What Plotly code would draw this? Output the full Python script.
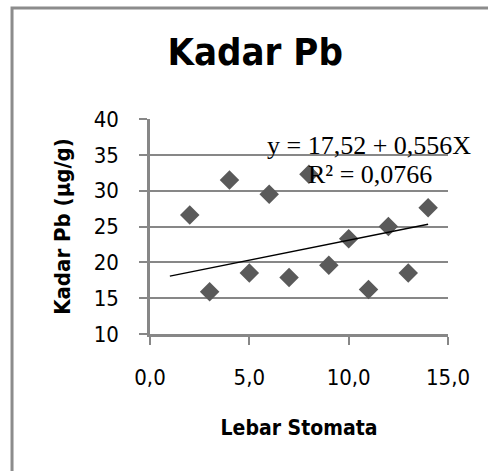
import plotly.graph_objects as go

# data
lebar_stomata = [2, 3, 4, 5, 6, 7, 8, 9, 10, 11, 12, 13, 14]
kadar_pb = [26.6, 15.9, 31.5, 18.5, 29.5, 17.9, 32.3, 19.6, 23.3, 16.2, 25.0, 18.5, 27.6]

# trendline as printed on the chart
intercept = 17.52
slope = 0.556
trend_x = [1, 14]
trend_y = [intercept + slope * v for v in trend_x]

narrow = "Liberation Sans Narrow, Arial Narrow, DejaVu Sans Condensed, sans-serif"
serif = "Liberation Serif, Times New Roman, serif"
gray = "#878787"

fig = go.Figure()

fig.add_trace(go.Scatter(
    x=lebar_stomata, y=kadar_pb, mode="markers",
    marker=dict(symbol="diamond", size=15, color="#5a5a5a", line=dict(width=0)),
    showlegend=False, cliponaxis=False
))

fig.add_trace(go.Scatter(
    x=trend_x, y=trend_y, mode="lines",
    line=dict(color="black", width=1.5),
    showlegend=False
))

fig.update_layout(
    width=488, height=471,
    margin=dict(l=150, r=40, t=119, b=137, autoexpand=False),
    paper_bgcolor="white", plot_bgcolor="white",
    title=dict(text="<b>Kadar Pb</b>", x=0.523, xanchor="center", y=0.89, yanchor="middle",
               font=dict(family=narrow, size=38, color="black")),
    font=dict(family=narrow, color="black"),
)

fig.update_xaxes(
    range=[0, 15], tickvals=[0, 5, 10, 15], ticktext=["0,0", "5,0", "10,0", "15,0"],
    showgrid=False, zeroline=False,
    showline=True, linecolor=gray, linewidth=2.5,
    ticks="outside", ticklen=8, tickwidth=2, tickcolor=gray,
    tickfont=dict(family=narrow, size=22, color="black"), ticklabelstandoff=14,
    title=dict(text="<b>Lebar Stomata</b>", font=dict(family=narrow, size=21, color="black"), standoff=32),
)

fig.update_yaxes(
    range=[10, 40], tickvals=[10, 15, 20, 25, 30, 35, 40],
    showgrid=True, gridcolor=gray, gridwidth=2, zeroline=False,
    showline=True, linecolor=gray, linewidth=2.5,
    ticks="outside", ticklen=8, tickwidth=2, tickcolor=gray,
    tickfont=dict(family=narrow, size=22, color="black"), ticklabelstandoff=16,
    title=dict(text="<b>Kadar Pb (µg/g)</b>", font=dict(family=narrow, size=22, color="black"), standoff=17),
)

fig.add_annotation(x=11.02, y=36.3, xref="x", yref="y", text="y = 17,52 + 0,556X",
                   showarrow=False, font=dict(family=serif, size=26, color="black"))
fig.add_annotation(x=11.05, y=32.3, xref="x", yref="y", text="R² = 0,0766",
                   showarrow=False, font=dict(family=serif, size=26, color="black"))

# caption line of the page above the chart, cut off by the picture's top edge
fig.add_annotation(x=-0.47, y=1.56, xref="paper", yref="paper", xanchor="left", yanchor="bottom",
                   text="b) Pengaruh Lebar Stomata", showarrow=False,
                   font=dict(family=serif, size=24, color="black"))

# outer chart frame (only top and left edges fall inside the picture)
fig.add_shape(type="rect", xref="paper", yref="paper",
              x0=-0.463, x1=1.6, y0=-1.0, y1=1.516,
              line=dict(color="#8c8c8c", width=3), layer="below")

fig.write_html("out.html", config={"displayModeBar": False},
               post_script="document.body.style.margin='0';")
